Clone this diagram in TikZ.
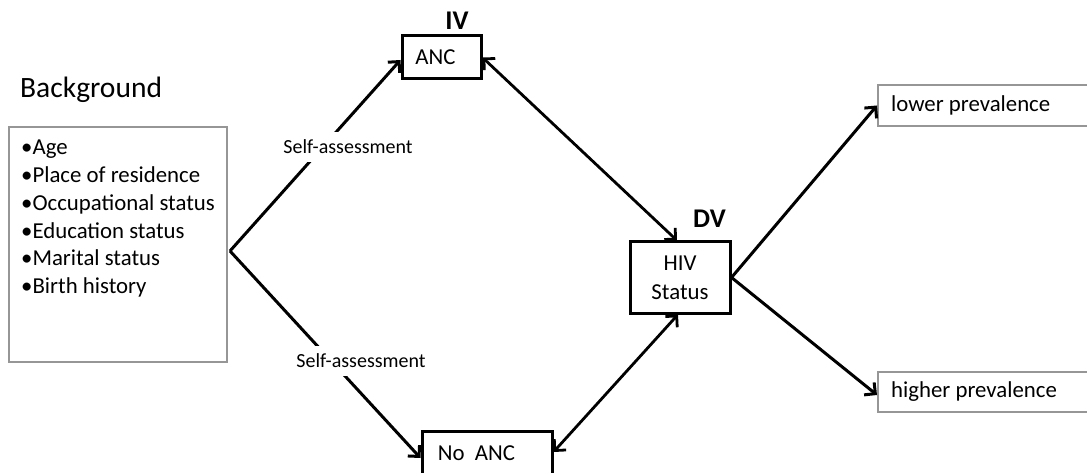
\documentclass[tikz,border=0pt]{standalone}
\usepackage{fontspec}
\setmainfont{Carlito}
\usetikzlibrary{arrows.meta}
\definecolor{boxgray}{RGB}{150,150,150}
\tikzset{
  blackbox/.style={draw=black, line width=3pt, inner sep=0pt, fill=white},
  graybox/.style={draw=boxgray, line width=2pt, inner sep=0pt, fill=white},
  arr/.style={line width=3pt, -{Straight Barb[length=8pt,width=16pt]}},
  darr/.style={line width=2.8pt, {Straight Barb[length=8pt,width=16pt]}-{Straight Barb[length=8pt,width=16pt]}},
  body/.style={font=\fontsize{22.8pt}{27pt}\selectfont, inner sep=0pt},
  lbl/.style={font=\fontsize{20pt}{23pt}\selectfont, fill=white, inner xsep=2pt, inner ysep=8pt},
  tag/.style={font=\fontsize{27pt}{30pt}\selectfont\bfseries, inner sep=0pt}
}
\begin{document}
\begin{tikzpicture}[x=1pt,y=-1pt]
\useasboundingbox (0,0) rectangle (1087,473);
% background box
\node[graybox, minimum width=218pt, minimum height=235pt] (bg) at (118,244.5) {};
\node[body, font=\fontsize{29.5pt}{33pt}\selectfont, anchor=base west] (bgl) at (20,98) {Background};
\node[body, anchor=base west] (b1) at (21,155) {•Age};
\node[body, anchor=base west] (b2) at (21,182.7) {•Place of residence};
\node[body, anchor=base west] (b3) at (21,210.4) {•Occupational status};
\node[body, anchor=base west] (b4) at (21,238.1) {•Education status};
\node[body, anchor=base west] (b5) at (21,265.8) {•Marital status};
\node[body, anchor=base west] (b6) at (21,293.5) {•Birth history};
\coordinate (fork) at (230,251);
% ANC
\node[blackbox, minimum width=79pt, minimum height=43pt] (anc) at (441.5,57.5) {};
\node[body] (anct) at (435.5,57.5) {ANC};
\node[tag] (iv) at (457,21) {IV};
% No ANC
\node[blackbox, minimum width=130pt, minimum height=46pt] (noanc) at (487,454) {};
\node[body] (noanct) at (476.5,453) {No\ \ ANC};
% HIV
\node[blackbox, minimum width=100pt, minimum height=71pt] (hiv) at (680,277.5) {};
\node[body, align=center, font=\fontsize{22.8pt}{29pt}\selectfont] (hivt) at (680,277.5) {HIV\\Status};
\node[tag] (dv) at (709.5,219) {DV};
% outcome boxes
\node[graybox, minimum width=222pt, minimum height=41pt] (lower) at (989,105.5) {};
\node[body, anchor=west] (lowert) at (891,105.5) {lower prevalence};
\node[graybox, minimum width=222pt, minimum height=40pt] (higher) at (989,392) {};
\node[body, anchor=west] (highert) at (891,392) {higher prevalence};
% connectors
\draw[arr] (fork) -- ([yshift=-2.5pt]anc.west);
\draw[arr] (fork) -- ([yshift=-4pt]noanc.west);
\draw[darr] (anc.east) -- ([xshift=-3pt]hiv.north);
\draw[darr] ([yshift=2pt]noanc.east) -- ([xshift=-2pt]hiv.south);
\draw[arr] (hiv.east) -- (lower.west);
\draw[arr] (hiv.east) -- ([yshift=-3pt]higher.west);
\node[lbl] (sa1) at (348,147) {Self-assessment};
\node[lbl] (sa2) at (361,361) {Self-assessment};
\end{tikzpicture}
\end{document}
